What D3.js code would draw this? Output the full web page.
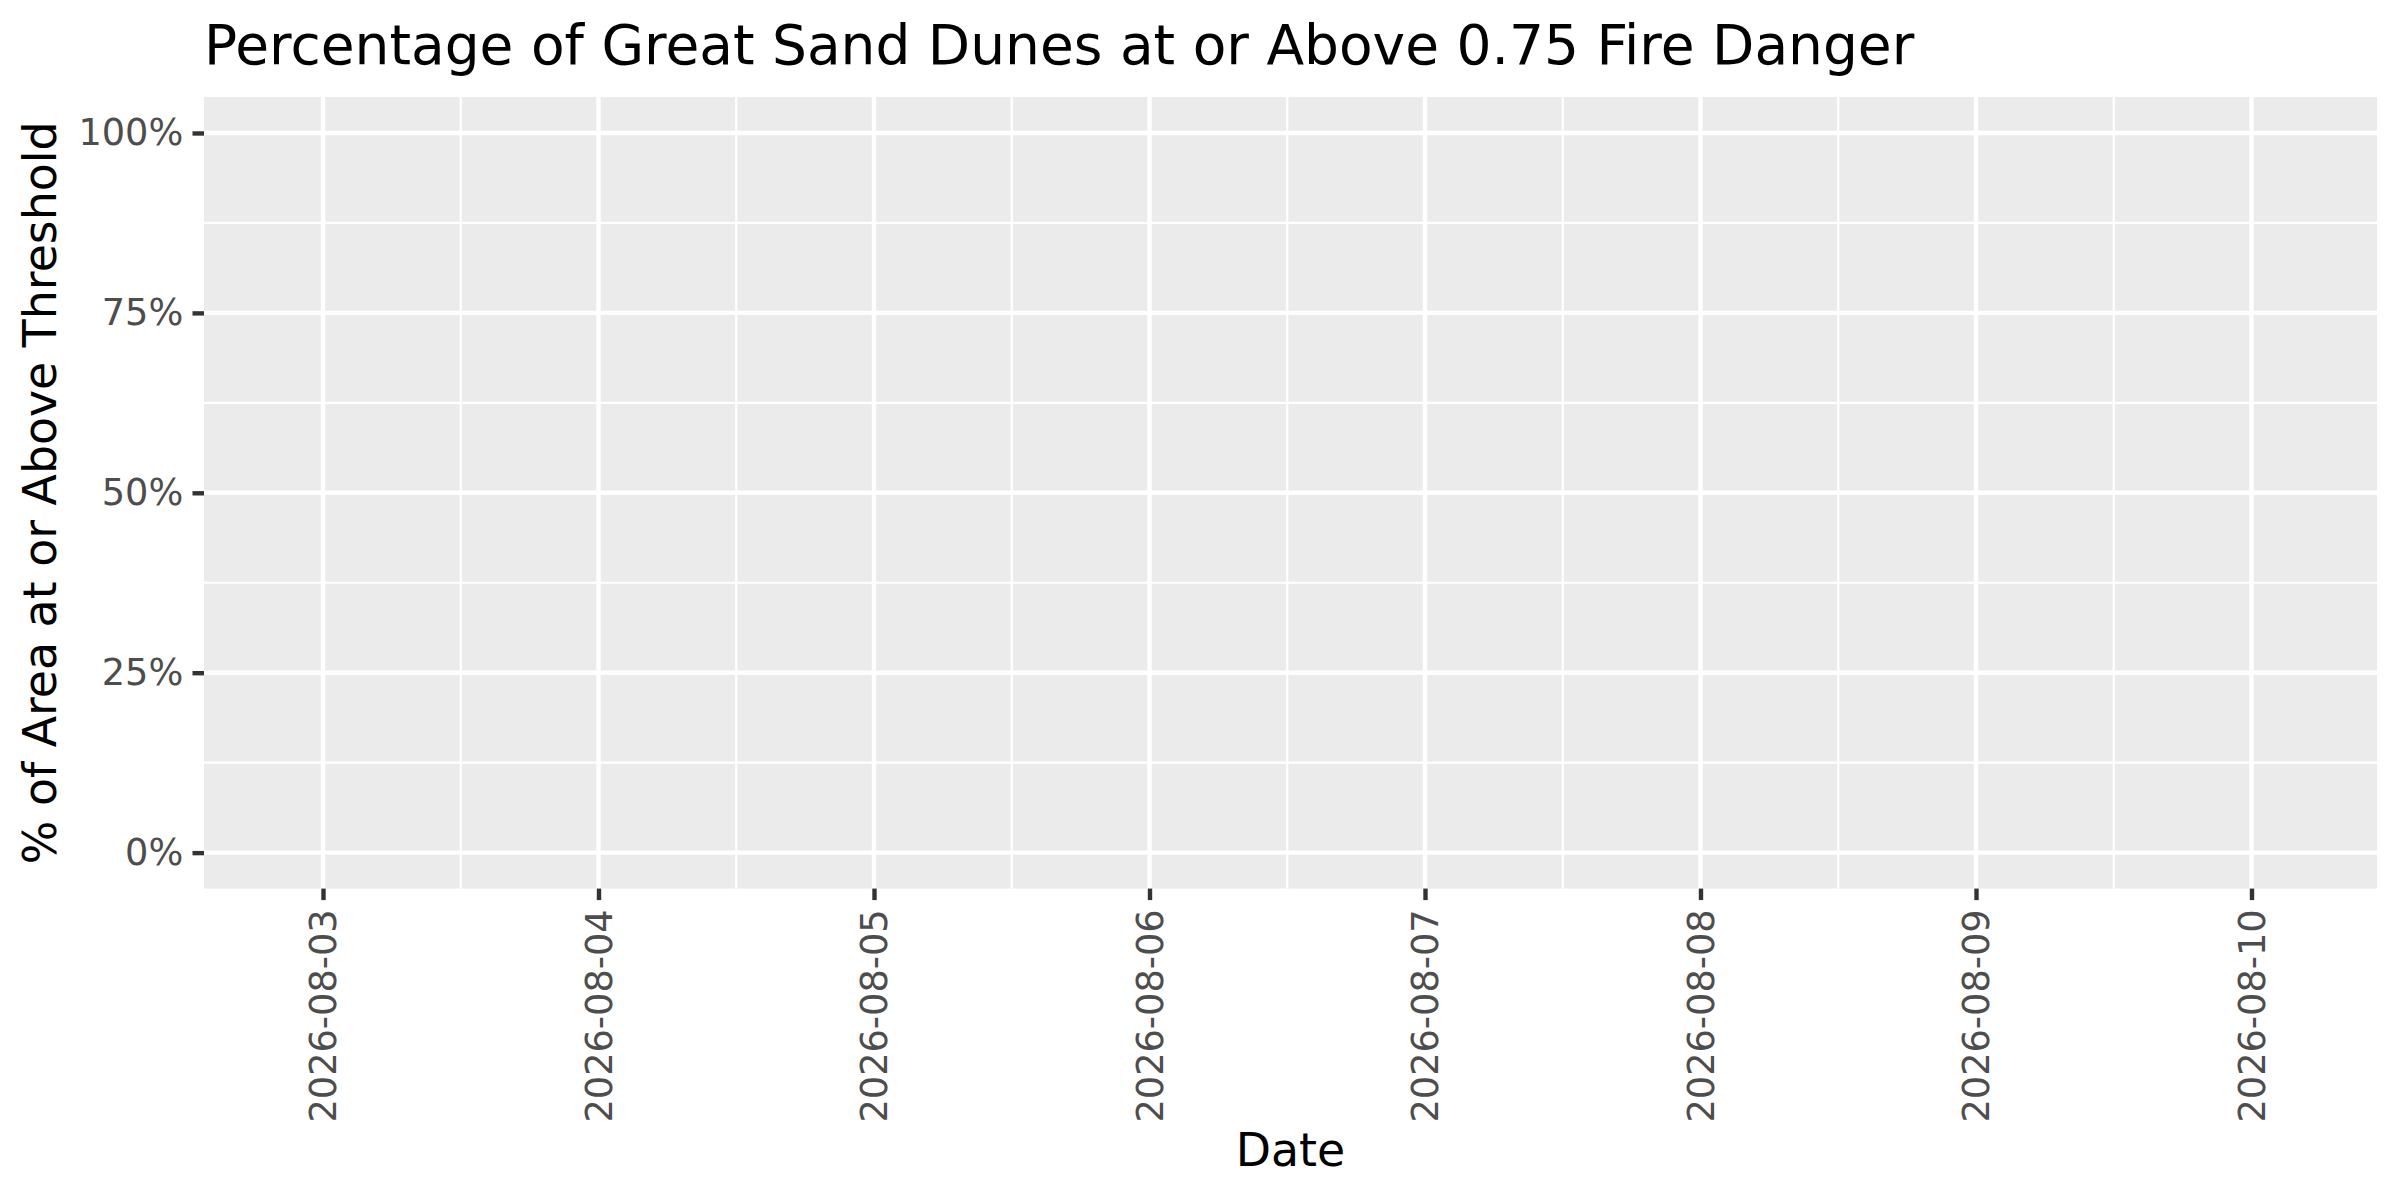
<!DOCTYPE html>
<html>
<head>
<meta charset="utf-8">
<script src="https://cdn.jsdelivr.net/npm/d3@7"></script>
<style>
  html, body { margin: 0; padding: 0; background: #ffffff; }
  svg { display: block; }
  text { font-family: "DejaVu Sans", sans-serif; }
</style>
</head>
<body>
<div id="chart"></div>
<script>
// ---- data ----
const chartTitle = "Percentage of Great Sand Dunes at or Above 0.75 Fire Danger";
const xTitle = "Date";
const yTitle = "% of Area at or Above Threshold";
const tickDates = ["2026-08-03","2026-08-04","2026-08-05","2026-08-06","2026-08-07","2026-08-08","2026-08-09","2026-08-10"];
const yTickValues = [0, 0.25, 0.5, 0.75, 1];
const yTickLabels = ["0%", "25%", "50%", "75%", "100%"];
const xDomain = ["2026-08-02T13:38:00Z", "2026-08-10T10:56:00Z"];
const yDomain = [-0.05, 1.05];
// series (no observations plotted in the reference)
const seriesDates = [];
const seriesValues = [];

// ---- layout ----
const W = 2400, H = 1200;
const panel = { left: 204, right: 2377, top: 97, bottom: 888.6 };
const parseDay = d3.utcParse("%Y-%m-%d");

const svg = d3.select("#chart").append("svg")
  .attr("width", W).attr("height", H)
  .attr("viewBox", `0 0 ${W} ${H}`);

svg.append("rect").attr("width", W).attr("height", H).attr("fill", "#ffffff");

const x = d3.scaleUtc()
  .domain(xDomain.map(d => new Date(d)))
  .range([panel.left, panel.right]);
const y = d3.scaleLinear()
  .domain(yDomain)
  .range([panel.bottom, panel.top]);

// panel background
svg.append("rect")
  .attr("x", panel.left).attr("y", panel.top)
  .attr("width", panel.right - panel.left)
  .attr("height", panel.bottom - panel.top)
  .attr("fill", "#EBEBEB");

const majorX = tickDates.map(parseDay);
const minorX = [];
for (let i = 0; i < majorX.length - 1; i++) {
  minorX.push(new Date((majorX[i].getTime() + majorX[i + 1].getTime()) / 2));
}
const minorY = [];
for (let i = 0; i < yTickValues.length - 1; i++) {
  minorY.push((yTickValues[i] + yTickValues[i + 1]) / 2);
}

const grid = svg.append("g");
// minor grid
grid.selectAll("line.minx").data(minorX).join("line")
  .attr("x1", d => x(d)).attr("x2", d => x(d))
  .attr("y1", panel.top).attr("y2", panel.bottom)
  .attr("stroke", "#ffffff").attr("stroke-width", 2.2);
grid.selectAll("line.miny").data(minorY).join("line")
  .attr("x1", panel.left).attr("x2", panel.right)
  .attr("y1", d => y(d)).attr("y2", d => y(d))
  .attr("stroke", "#ffffff").attr("stroke-width", 2.2);
// major grid
grid.selectAll("line.majx").data(majorX).join("line")
  .attr("x1", d => x(d)).attr("x2", d => x(d))
  .attr("y1", panel.top).attr("y2", panel.bottom)
  .attr("stroke", "#ffffff").attr("stroke-width", 4.4);
grid.selectAll("line.majy").data(yTickValues).join("line")
  .attr("x1", panel.left).attr("x2", panel.right)
  .attr("y1", d => y(d)).attr("y2", d => y(d))
  .attr("stroke", "#ffffff").attr("stroke-width", 4.4);

// series line (empty in reference)
const line = d3.line()
  .x((d, i) => x(parseDay(seriesDates[i])))
  .y(d => y(d));
svg.append("path").datum(seriesValues)
  .attr("d", seriesValues.length ? line(seriesValues) : null)
  .attr("fill", "none").attr("stroke", "#000000").attr("stroke-width", 4.4);

// y axis
const yAxis = d3.axisLeft(y)
  .tickValues(yTickValues)
  .tickFormat((d, i) => yTickLabels[i])
  .tickSizeInner(11.5).tickSizeOuter(0).tickPadding(9.2);
const gy = svg.append("g").attr("transform", `translate(${panel.left},0)`).call(yAxis);
gy.select(".domain").remove();
gy.selectAll(".tick line").attr("stroke", "#333333").attr("stroke-width", 4.4);
gy.selectAll(".tick text")
  .attr("fill", "#4D4D4D")
  .style("font-size", "36.7px")
  .style("font-family", "'DejaVu Sans', sans-serif");

// x axis
const xAxis = d3.axisBottom(x)
  .tickValues(majorX)
  .tickFormat(d3.utcFormat("%Y-%m-%d"))
  .tickSizeInner(11.5).tickSizeOuter(0).tickPadding(9.2);
const gx = svg.append("g").attr("transform", `translate(0,${panel.bottom})`).call(xAxis);
gx.select(".domain").remove();
gx.selectAll(".tick line").attr("stroke", "#333333").attr("stroke-width", 4.4);
gx.selectAll(".tick text")
  .attr("fill", "#4D4D4D")
  .style("font-size", "36.7px")
  .style("font-family", "'DejaVu Sans', sans-serif")
  .attr("transform", "rotate(-90)")
  .attr("x", -(11.5 + 9.2))
  .attr("y", 0)
  .attr("dy", "0.35em")
  .attr("text-anchor", "end");

// axis titles
svg.append("text")
  .attr("x", (panel.left + panel.right) / 2)
  .attr("y", 1166)
  .attr("text-anchor", "middle")
  .attr("fill", "#000000")
  .style("font-size", "45.8px")
  .text(xTitle);

svg.append("text")
  .attr("transform", `translate(56,${(panel.top + panel.bottom) / 2}) rotate(-90)`)
  .attr("text-anchor", "middle")
  .attr("fill", "#000000")
  .style("font-size", "45.8px")
  .text(yTitle);

// title
svg.append("text")
  .attr("x", panel.left)
  .attr("y", 64)
  .attr("fill", "#000000")
  .style("font-size", "55px")
  .text(chartTitle);
</script>
</body>
</html>
